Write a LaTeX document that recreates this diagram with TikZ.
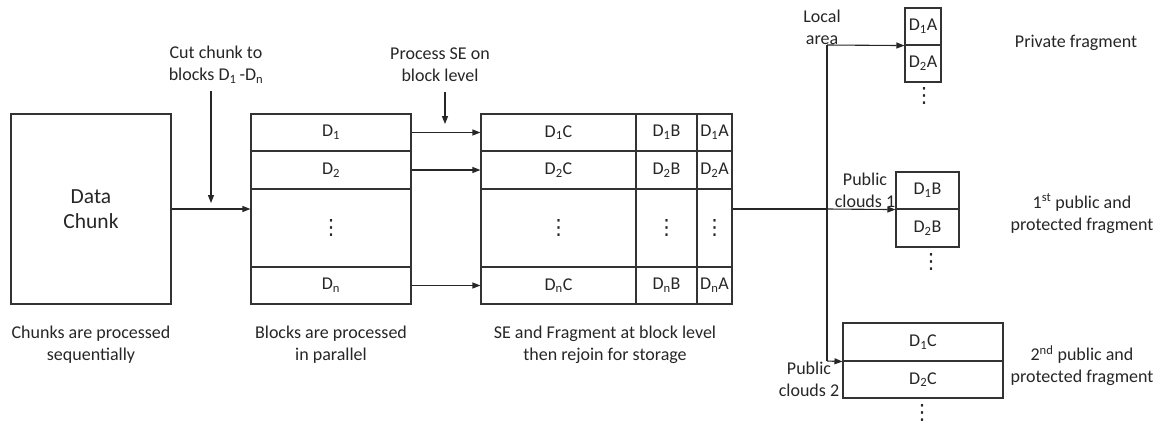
\documentclass[tikz,border=0pt]{standalone}
\usepackage{fontspec}
\setmainfont{Carlito}
\newfontfamily\dvsfont{DejaVu Sans}
\usetikzlibrary{arrows.meta}
\newcommand\vdts{{\dvsfont\fontsize{21}{21}\selectfont ⋮}}
\newcommand\cellbox[6]{\node[box,minimum width={(#4-#2)*1pt},minimum height={(#5-#3)*1pt}] (#1) at ({(#2+#4)/2},{(#3+#5)/2}) {#6};}
\newcommand\Dd[1]{D\textsubscript{#1}}
\begin{document}
\begin{tikzpicture}[x=1pt,y=-1pt,
  box/.style={draw=black!80,line width=1.1pt,inner sep=0pt,text=black!85,font=\fontsize{18}{22}\selectfont},
  lbl/.style={inner sep=0pt,align=center,text=black!85,font=\fontsize{18}{22}\selectfont},
  arr/.style={draw=black!85,line width=1.1pt,-{Triangle[length=8pt,width=6pt]}},
  ln/.style={draw=black!85,line width=1.1pt}]
\useasboundingbox (0,0) rectangle (1154,423);
% data chunk
\cellbox{dc}{11}{114}{171}{304}{}
\node[lbl,font=\fontsize{21.5}{25}\selectfont] (dct) at (dc.center) {Data\\Chunk};
% blocks
\cellbox{b1}{251}{114}{411}{151}{\Dd{1}}
\cellbox{b2}{251}{151}{411}{189}{\Dd{2}}
\cellbox{bd}{251}{189}{411}{267}{\vdts}
\cellbox{bn}{251}{267}{411}{304}{\Dd{n}}
% SE table
\cellbox{c1}{481}{114}{636}{151}{\Dd{1}C}
\cellbox{c2}{481}{151}{636}{189}{\Dd{2}C}
\cellbox{cd}{481}{189}{636}{267}{\vdts}
\cellbox{cn}{481}{267}{636}{304}{\Dd{n}C}
\cellbox{e1}{636}{114}{697}{151}{\Dd{1}B}
\cellbox{e2}{636}{151}{697}{189}{\Dd{2}B}
\cellbox{ed}{636}{189}{697}{267}{\vdts}
\cellbox{en}{636}{267}{697}{304}{\Dd{n}B}
\cellbox{a1}{697}{114}{732}{151}{\Dd{1}A}
\cellbox{a2}{697}{151}{732}{189}{\Dd{2}A}
\cellbox{ad}{697}{189}{732}{267}{\vdts}
\cellbox{an}{697}{267}{732}{304}{\Dd{n}A}
% private fragment
\cellbox{pa1}{905}{8}{941}{45}{\Dd{1}A}
\cellbox{pa2}{905}{45}{941}{82}{\Dd{2}A}
\node[lbl] (pad) at (924,96) {\vdts};
% public 1
\cellbox{pb1}{896}{172}{959}{209}{\Dd{1}B}
\cellbox{pb2}{896}{209}{959}{247}{\Dd{2}B}
\node[lbl] (pbd) at (931,262) {\vdts};
% public 2
\cellbox{pc1}{843}{323}{1003}{361}{\Dd{1}C}
\cellbox{pc2}{843}{361}{1003}{398}{\Dd{2}C}
\node[lbl] (pcd) at (922,413) {\vdts};
% labels
\node[lbl] (cut) at (216,64.5) {Cut chunk to\\blocks \Dd{1}\,-\Dd{n}};
\node[lbl] (pse) at (440,64.5) {Process SE on\\block level};
\node[lbl] (cap1) at (91,344.5) {Chunks are processed\\sequentially};
\node[lbl] (cap2) at (331,344.5) {Blocks are processed\\in parallel};
\node[lbl] (cap3) at (605,344.5) {SE and Fragment at block level\\then rejoin for storage};
\node[lbl] (loc) at (822,27) {Local\\area};
\node[lbl] (pub1) at (865,190.5) {Public\\clouds 1};
\node[lbl] (pub2) at (809,379) {Public\\clouds 2};
\node[lbl] (prf) at (1076,43) {Private fragment};
\node[lbl] (f1) at (1082,213.5) {1\textsuperscript{st} public and\\protected fragment};
\node[lbl] (f2) at (1082,366) {2\textsuperscript{nd} public and\\protected fragment};
% connectors
\coordinate (cuts) at (211,91);
\coordinate (cute) at (211,203);
\coordinate (pses) at (445,92);
\coordinate (psee) at (445,124);
\coordinate (jt) at (827,45);
\coordinate (jm) at (827,209);
\coordinate (jb) at (827,361);
\draw[arr] (dc.east) -- (dc.east -| bd.west);
\draw[arr] (cuts) -- (cute);
\draw[arr] (pses) -- (psee);
\draw[arr] (b1.east) -- (c1.west);
\draw[arr] (b2.east) -- (c2.west);
\draw[arr] (bn.east) -- (cn.west);
\draw[ln] (jm -| ad.east) -- (jm);
\draw[ln] (jt) -- (jb);
\draw[arr] (jt) -- (pa1.south west);
\draw[arr] (jm) -- (pb1.south west);
\draw[arr] (jb) -- (pc1.south west);
\end{tikzpicture}
\end{document}
